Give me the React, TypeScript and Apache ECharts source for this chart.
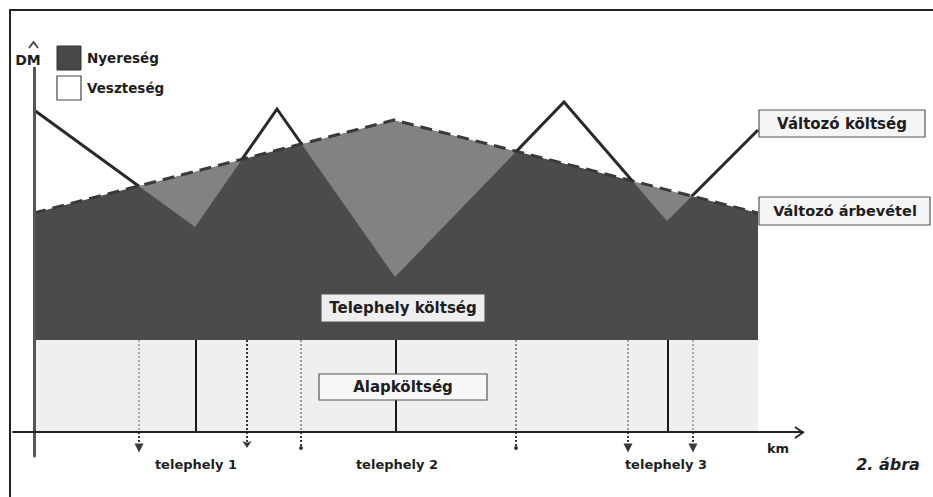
import React, { useEffect, useRef } from "react";
import * as echarts from "echarts";

// Variable cost curve (km, DM)
const costX = [0, 16.1, 24.3, 36.1, 53.0, 63.3, 72.4];
const costY = [32.2, 20.5, 32.3, 15.5, 33.0, 21.1, 30.2];
// Variable revenue curve
const revX = [0, 36.0, 72.4];
const revY = [21.9, 31.2, 21.9];
// Base cost level
const baseLevel = 9.2;
const baseX = [0, 72.4];
// Site positions (solid lines) and dotted markers
const sitePos = [16.2, 36.2, 63.4];
const dottedPos = [10.5, 21.3, 26.7, 48.2, 59.4, 65.9];
const dottedEnd = ["triangle", "arrow", "circle", "circle", "triangle", "triangle"];
const dottedTone = ["#a8a8a8", "#333333", "#9a9a9a", "#8a8a8a", "#a0a0a0", "#a8a8a8"];
const siteLabels = ["telephely 1", "telephely 2", "telephely 3"];
const legendLabels = ["Nyereség", "Veszteség"];
const boxLabels = ["Változó költség", "Változó árbevétel", "Telephely költség", "Alapköltség"];

const Y_MIN = -2.4;
const Y_MAX = 36.4;
const X_MIN = -2.1;
const X_MAX = 76.9;

const FONT = '"DejaVu Sans", sans-serif';

export default function App() {
  const ref = useRef<HTMLDivElement>(null);
  useEffect(() => {
    if (!ref.current) return;
    const chart = echarts.init(ref.current, null, { renderer: "svg" });
    const pts = (xs: number[], ys: number[]) => xs.map((x, i) => [x, ys[i]]);
    const cost = pts(costX, costY);
    const rev = pts(revX, revY);
    const base = baseX.map((x) => [x, baseLevel]);

    const txt = (text: string, x: number, y: number, extra: any = {}) => ({
      type: "text",
      x,
      y,
      z: 200,
      style: {
        text,
        fill: "#1e1e1e",
        font: `bold 13px ${FONT}`,
        textAlign: "center",
        textVerticalAlign: "middle",
        ...extra,
      },
    });
    const box = (x: number, y: number, w: number, h: number, fill: string) => ({
      type: "rect",
      z: 190,
      shape: { x, y, width: w, height: h },
      style: { fill, stroke: "#555", lineWidth: 1.2 },
    });

    const option: any = {
      animation: false,
      grid: { left: 13, right: 130, top: 68, bottom: 41 },
      xAxis: {
        type: "value",
        min: X_MIN,
        max: X_MAX,
        z: 50,
        axisLine: { onZero: true, lineStyle: { color: "#222", width: 2 } },
        axisTick: { show: false },
        axisLabel: { show: false },
        splitLine: { show: false },
      },
      yAxis: {
        type: "value",
        min: Y_MIN,
        max: Y_MAX,
        z: 50,
        axisLine: { onZero: true, lineStyle: { color: "#555", width: 3 } },
        axisTick: { show: false },
        axisLabel: { show: false },
        splitLine: { show: false },
      },
      series: [
        {
          name: "revenueFill",
          type: "line",
          data: rev,
          z: 1,
          showSymbol: false,
          lineStyle: { width: 0 },
          areaStyle: { color: "#828282", opacity: 1 },
        },
        {
          name: "costFill",
          type: "line",
          data: cost,
          z: 2,
          showSymbol: false,
          lineStyle: { width: 0 },
          areaStyle: { color: "#4b4b4b", opacity: 1 },
        },
        {
          name: "mask",
          type: "line",
          data: rev,
          z: 3,
          showSymbol: false,
          lineStyle: { width: 0 },
          areaStyle: { color: "#ffffff", opacity: 1, origin: "end" },
        },
        {
          name: "base",
          type: "line",
          data: base,
          z: 4,
          showSymbol: false,
          lineStyle: { width: 0 },
          areaStyle: { color: "#efefef", opacity: 1 },
          markLine: {
            silent: true,
            label: { show: false },
            z: 5,
            data: [
              ...sitePos.map((x) => [
                { coord: [x, baseLevel], symbol: "none", lineStyle: { color: "#1a1a1a", width: 2, type: "solid" } },
                { coord: [x, 0], symbol: "none" },
              ]),
              ...dottedPos.map((x, i) => [
                { coord: [x, baseLevel], symbol: "none", lineStyle: { color: dottedTone[i], width: 2, type: "dotted" } },
                { coord: [x, 0], symbol: "none" },
              ]),
              ...dottedPos.map((x, i) => [
                { coord: [x, 0], symbol: "none", lineStyle: { color: "#3a3a3a", width: 2, type: "dotted" } },
                {
                  coord: [x, -1.6],
                  symbol: dottedEnd[i],
                  symbolSize: dottedEnd[i] === "circle" ? 4 : dottedEnd[i] === "arrow" ? 7 : 9,
                  itemStyle: { color: "#333" },
                },
              ]),
            ],
          },
        },
        {
          name: "Változó árbevétel",
          type: "line",
          data: rev,
          z: 6,
          showSymbol: false,
          lineStyle: { color: "#3a3a3a", width: 3, type: [12, 7] },
        },
        {
          name: "Változó költség",
          type: "custom",
          z: 7,
          data: [0],
          renderItem: (_params: any, api: any) => {
            const linePts = cost.map((p) => api.coord(p));
            const topY = api.coord([0, Y_MAX])[1] - 100;
            const revPts = rev.map((p) => api.coord(p));
            const first = revPts[0];
            const last = revPts[revPts.length - 1];
            const clipPts = [
              [first[0] - 50, topY],
              [first[0] - 50, first[1]],
              ...revPts,
              [last[0] + 50, last[1]],
              [last[0] + 50, topY],
            ];
            return {
              type: "polyline",
              shape: { points: linePts },
              style: { stroke: "#2a2a2a", lineWidth: 3, fill: null, lineJoin: "miter" },
              clipPath: { type: "polygon", shape: { points: clipPts } },
            };
          },
        },
      ],
      graphic: [
        {
          type: "polyline",
          z: 150,
          shape: { points: [[10, 497], [10, 10], [933, 10]] },
          style: { stroke: "#222", lineWidth: 2, fill: "none" },
        },
        {
          type: "polyline",
          z: 150,
          shape: { points: [[29, 48], [33.5, 42], [38, 48]] },
          style: { stroke: "#444", lineWidth: 1.8, fill: "none" },
        },
        {
          type: "polyline",
          z: 150,
          shape: { points: [[795, 427], [803, 432.5], [795, 438]] },
          style: { stroke: "#222", lineWidth: 1.8, fill: "none" },
        },
        txt("DM", 28, 60, { font: `bold 14px ${FONT}` }),
        {
          type: "rect",
          z: 190,
          shape: { x: 57, y: 46, width: 24, height: 24 },
          style: { fill: "#474747", stroke: "#333", lineWidth: 1 },
        },
        {
          type: "rect",
          z: 190,
          shape: { x: 57, y: 76, width: 24, height: 24 },
          style: { fill: "#ffffff", stroke: "#444", lineWidth: 1.2 },
        },
        txt(legendLabels[0], 87, 58, { textAlign: "left", font: `bold 13.5px ${FONT}` }),
        txt(legendLabels[1], 87, 88, { textAlign: "left", font: `bold 13.5px ${FONT}` }),
        box(759, 110, 166, 27, "#f5f5f5"),
        txt(boxLabels[0], 842, 124, { font: `bold 15px ${FONT}` }),
        box(759, 197, 171, 28, "#f5f5f5"),
        txt(boxLabels[1], 845, 211, { font: `bold 14.5px ${FONT}` }),
        box(321, 294, 164, 28, "#eeeeee"),
        txt(boxLabels[2], 403, 308, { font: `bold 15px ${FONT}` }),
        box(319, 374, 168, 26, "#f7f7f7"),
        txt(boxLabels[3], 403, 387, { font: `bold 15px ${FONT}` }),
        txt(siteLabels[0], 196, 464),
        txt(siteLabels[1], 397, 464),
        txt(siteLabels[2], 666, 464),
        txt("km", 778, 448),
        txt("2. ábra", 888, 464, { font: `italic bold 16px ${FONT}` }),
      ],
    };
    chart.setOption(option);
    return () => chart.dispose();
  }, []);
  return (
    <div
      ref={ref}
      style={{ position: "fixed", left: 0, top: 0, width: 933, height: 497, background: "#fff" }}
    />
  );
}
